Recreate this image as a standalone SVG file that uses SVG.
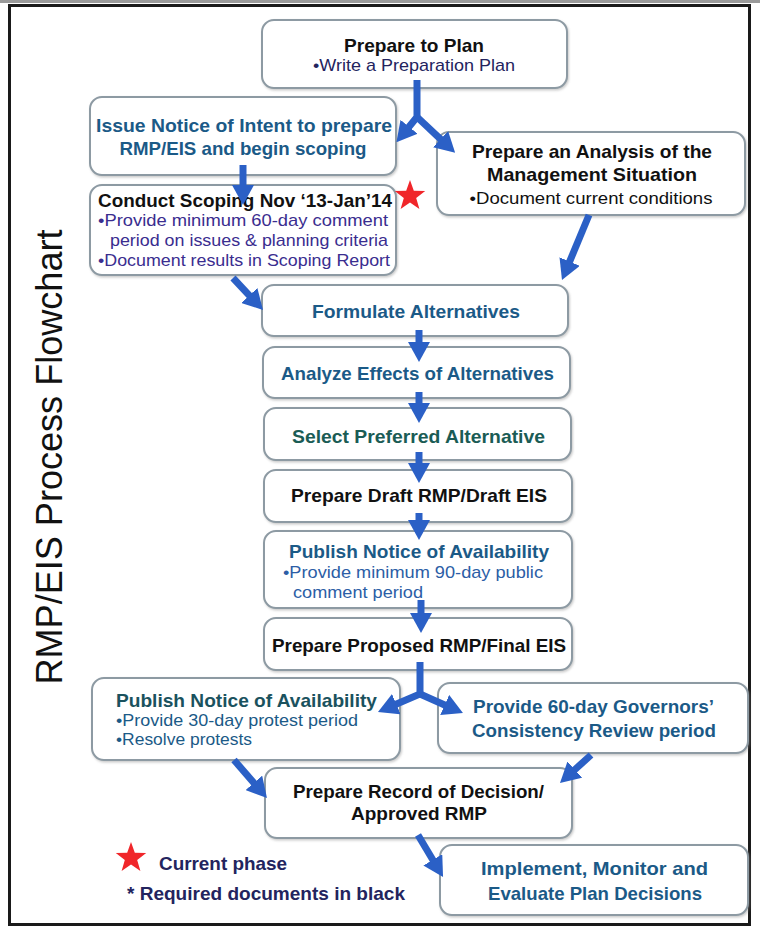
<svg xmlns="http://www.w3.org/2000/svg" width="760" height="928" viewBox="0 0 760 928">
<style>
.box{fill:#ffffff;stroke:#8d9aa3;stroke-width:2;filter:url(#sh)}
.t{font-family:"Liberation Sans",Arial,sans-serif;font-weight:bold;font-size:19px}
.b{font-family:"Liberation Sans",Arial,sans-serif;font-size:17px}
.vt{font-family:"Liberation Sans",Arial,sans-serif;font-size:37px;fill:#111111;text-anchor:middle}
.m{text-anchor:middle}
.k{fill:#111111}
.navy{fill:#23245e}
.teal{fill:#1b5a87}
.green{fill:#1a5c55}
.purple{fill:#3a2d8f}
.lblue{fill:#2c5ea6}
.dteal{fill:#1a525e}
.arr{fill:none;stroke:#2b60c6;stroke-width:7;stroke-linejoin:miter;marker-end:url(#ah)}
.star{fill:#f0262a}
</style>
<defs>
<filter id="sh" x="-5%" y="-10%" width="110%" height="125%">
<feDropShadow dx="1" dy="1.5" stdDeviation="1.2" flood-color="#8a8a8a" flood-opacity="0.45"/>
</filter>
<marker id="ah" markerUnits="userSpaceOnUse" viewBox="0 0 20 22" markerWidth="20" markerHeight="22" refX="8" refY="11" orient="auto">
<path d="M0,0 L20,11 L0,22 Z" fill="#2b60c6"/>
</marker>
<polygon id="starShape" points="0,-16 3.82,-5.26 15.22,-4.94 6.18,2.01 9.40,12.94 0,6.5 -9.40,12.94 -6.18,2.01 -15.22,-4.94 -3.82,-5.26"/>
</defs>
<rect x="0" y="0" width="760" height="928" fill="#ffffff"/>
<rect x="0" y="0" width="760" height="3" fill="#9a9a9a"/>
<rect x="9.5" y="5.5" width="740" height="919" fill="none" stroke="#1a1a1a" stroke-width="3"/>

<g id="title">
<text class="vt" transform="translate(62,457) rotate(-90)" textLength="455" lengthAdjust="spacingAndGlyphs">RMP/EIS Process Flowchart</text>
</g>

<g id="prepare-to-plan">
<rect class="box" x="262" y="20" width="305" height="68" rx="12"/>
<text class="t m k" x="414" y="52" textLength="140" lengthAdjust="spacingAndGlyphs">Prepare to Plan</text>
<text class="b m navy" x="414" y="71" textLength="202" lengthAdjust="spacingAndGlyphs">•Write a Preparation Plan</text>
</g>

<g id="issue-notice">
<rect class="box" x="90" y="97" width="306" height="78" rx="12"/>
<text class="t m teal" x="244" y="132" textLength="296" lengthAdjust="spacingAndGlyphs">Issue Notice of Intent to prepare</text>
<text class="t m teal" x="243" y="155" textLength="247" lengthAdjust="spacingAndGlyphs">RMP/EIS and begin scoping</text>
</g>

<g id="analysis">
<rect class="box" x="437" y="132" width="308" height="83" rx="12"/>
<text class="t m k" x="592" y="158" textLength="240" lengthAdjust="spacingAndGlyphs">Prepare an Analysis of the</text>
<text class="t m k" x="592" y="181" textLength="210" lengthAdjust="spacingAndGlyphs">Management Situation</text>
<text class="b m k" x="591" y="204" textLength="243" lengthAdjust="spacingAndGlyphs">•Document current conditions</text>
</g>

<g id="conduct-scoping">
<rect class="box" x="90" y="185" width="306" height="90" rx="12"/>
<text class="t k" x="98" y="207" textLength="294" lengthAdjust="spacingAndGlyphs">Conduct Scoping Nov ‘13-Jan’14</text>
<text class="b purple" x="98" y="226" textLength="290" lengthAdjust="spacingAndGlyphs">•Provide minimum 60-day comment</text>
<text class="b purple" x="110" y="246" textLength="278" lengthAdjust="spacingAndGlyphs">period on issues &amp; planning criteria</text>
<text class="b purple" x="98" y="266" textLength="292" lengthAdjust="spacingAndGlyphs">•Document results in Scoping Report</text>
<use href="#starShape" class="star" x="410" y="196"/>
</g>

<g id="formulate">
<rect class="box" x="262" y="285" width="306" height="51" rx="12"/>
<text class="t m teal" x="416" y="318" textLength="208" lengthAdjust="spacingAndGlyphs">Formulate Alternatives</text>
</g>

<g id="analyze">
<rect class="box" x="263" y="347" width="307" height="51" rx="12"/>
<text class="t m teal" x="417.5" y="380" textLength="273" lengthAdjust="spacingAndGlyphs">Analyze Effects of Alternatives</text>
</g>

<g id="select">
<rect class="box" x="264" y="408" width="307" height="52" rx="12"/>
<text class="t m green" x="418.5" y="443" textLength="253" lengthAdjust="spacingAndGlyphs">Select Preferred Alternative</text>
</g>

<g id="draft">
<rect class="box" x="264" y="470" width="308" height="52" rx="12"/>
<text class="t m k" x="419" y="502" textLength="256" lengthAdjust="spacingAndGlyphs">Prepare Draft RMP/Draft EIS</text>
</g>

<g id="publish-1">
<rect class="box" x="264" y="531" width="308" height="77" rx="12"/>
<text class="t m teal" x="419" y="558" textLength="260" lengthAdjust="spacingAndGlyphs">Publish Notice of Availability</text>
<text class="b lblue" x="283" y="578" textLength="260" lengthAdjust="spacingAndGlyphs">•Provide minimum 90-day public</text>
<text class="b lblue" x="293" y="598" textLength="130" lengthAdjust="spacingAndGlyphs">comment period</text>
</g>

<g id="proposed">
<rect class="box" x="264" y="618" width="308" height="52" rx="12"/>
<text class="t m k" x="419" y="652" textLength="294" lengthAdjust="spacingAndGlyphs">Prepare Proposed RMP/Final EIS</text>
</g>

<g id="publish-2">
<rect class="box" x="92" y="678" width="308" height="82" rx="12"/>
<text class="t dteal" x="116" y="707" textLength="261" lengthAdjust="spacingAndGlyphs">Publish Notice of Availability</text>
<text class="b teal" x="116" y="726" textLength="242" lengthAdjust="spacingAndGlyphs">•Provide 30-day protest period</text>
<text class="b teal" x="116" y="745" textLength="136" lengthAdjust="spacingAndGlyphs">•Resolve protests</text>
</g>

<g id="governors">
<rect class="box" x="438" y="683" width="310" height="70" rx="12"/>
<text class="t m teal" x="593.5" y="713" textLength="241" lengthAdjust="spacingAndGlyphs">Provide 60-day Governors’</text>
<text class="t m teal" x="594" y="737" textLength="244" lengthAdjust="spacingAndGlyphs">Consistency Review period</text>
</g>

<g id="record">
<rect class="box" x="265" y="768" width="307" height="70" rx="12"/>
<text class="t m k" x="418.5" y="798" textLength="251" lengthAdjust="spacingAndGlyphs">Prepare Record of Decision/</text>
<text class="t m k" x="419" y="820" textLength="136" lengthAdjust="spacingAndGlyphs">Approved RMP</text>
</g>

<g id="implement">
<rect class="box" x="440" y="845" width="308" height="70" rx="12"/>
<text class="t m teal" x="594.5" y="875" textLength="227" lengthAdjust="spacingAndGlyphs">Implement, Monitor and</text>
<text class="t m teal" x="595" y="900" textLength="214" lengthAdjust="spacingAndGlyphs">Evaluate Plan Decisions</text>
</g>

<g id="legend">
<use href="#starShape" class="star" x="131" y="858"/>
<text class="t navy" x="159" y="870" textLength="128" lengthAdjust="spacingAndGlyphs">Current phase</text>
<text class="t navy" x="127" y="900" textLength="278" lengthAdjust="spacingAndGlyphs">* Required documents in black</text>
</g>

<g id="connectors">
<path class="arr" d="M417,80 L417,117 L404,133"/>
<path class="arr" d="M417,117 L446.4,144.6"/>
<path class="arr" d="M243,165 L243,193"/>
<path class="arr" d="M233,278 L254.8,301.3"/>
<path class="arr" d="M589,215 L566.6,268.9"/>
<path class="arr" d="M419,330 L419,350"/>
<path class="arr" d="M419,392 L419,411"/>
<path class="arr" d="M419,452 L419,471"/>
<path class="arr" d="M419,513 L419,528"/>
<path class="arr" d="M421,600 L421,621"/>
<path class="arr" d="M420,662 L420,694 L389,707.3"/>
<path class="arr" d="M420,694 L452,708.2"/>
<path class="arr" d="M234,760 L259.1,788.9"/>
<path class="arr" d="M591,755 L568.9,775"/>
<path class="arr" d="M418,835 L436.9,866.7"/>
</g>
</svg>
